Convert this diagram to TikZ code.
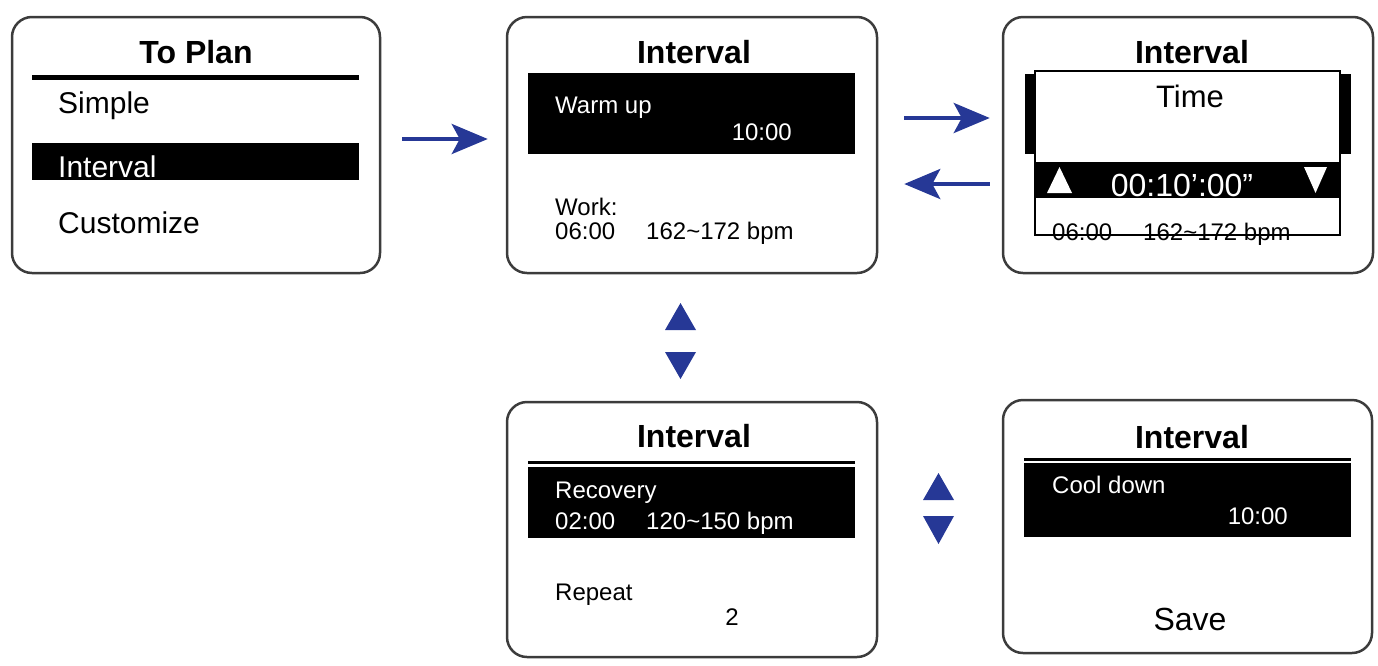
\documentclass[tikz,border=0pt]{standalone}
\usepackage{fontspec}
\setmainfont{Liberation Sans}
\usetikzlibrary{arrows.meta, positioning}
\definecolor{navyarrow}{RGB}{38,56,150}
\definecolor{screenline}{RGB}{60,60,60}
\newcommand{\ttlfont}{\fontsize{32}{36}\selectfont\bfseries}
\newcommand{\itemfont}{\fontsize{30}{34}\selectfont}
\newcommand{\smallfont}{\fontsize{24}{27}\selectfont}
\newcommand{\bigfont}{\fontsize{32}{36}\selectfont}
\newcommand{\gapsp}{\hspace{31pt}}

\begin{document}
\begin{tikzpicture}[x=1pt, y=-1pt,
    screen/.style={draw=screenline, line width=2.5pt, rounded corners=20pt,
      minimum width=368pt, minimum height=256pt, inner sep=0pt},
    ttl/.style={anchor=base, inner sep=0pt, font=\ttlfont},
    itm/.style={anchor=base west, inner sep=0pt, font=\itemfont},
    lbl/.style={anchor=base west, inner sep=0pt, font=\smallfont},
    flow/.style={draw=navyarrow, line width=4pt,
      -{Stealth[length=36pt, width=30pt, inset=8pt]}},
    tri/.style={fill=navyarrow}]
  \useasboundingbox (0,0) rectangle (1378,665);

  % screens
  \node[screen] (plan) at (196,145) {};
  \node[screen, minimum width=370pt] (warm) at (692,145) {};
  \node[screen, minimum width=370pt] (time) at (1188,145) {};
  \node[screen, minimum width=370pt, minimum height=255pt] (recov) at (692,529.5) {};
  \node[screen, minimum width=369pt, minimum height=253pt] (cool) at (1187.5,526.5) {};

  % To Plan
  \node[ttl] (plantitle) at (196,63) {To Plan};
  \draw[line width=5pt] (32,77) -- (359,77);
  \node[itm] (simple) at (58,113) {Simple};
  \fill (32,143) rectangle (359,180);
  \node[itm, text=white] (interval) at (58,177) {Interval};
  \node[itm] (custom) at (58,233) {Customize};

  % Warm up
  \node[ttl] (warmtitle) at (694,63) {Interval};
  \fill (528,73) rectangle (855,154);
  \node[lbl, text=white] (warmlbl) at (555,113) {Warm up};
  \node[lbl, text=white, anchor=base east] (warmval) at (792,140) {10:00};
  \node[lbl] (worklbl) at (555,215) {Work:};
  \node[lbl] (workval) at (555,239) {06:00\gapsp162\textasciitilde172 bpm};

  % Time dialog
  \node[ttl] (timetitle) at (1192,63) {Interval};
  \fill (1025,74) rectangle (1351,154);
  \fill[white] (1035,71) rectangle (1340,235);
  \node[anchor=base, inner sep=0pt, font=\fontsize{31}{34}\selectfont] (timelbl) at (1190,107) {Time};
  \fill (1035,162) rectangle (1340,198);
  \fill[white] (1047,193) -- (1072,193) -- (1059.5,167) -- cycle;
  \fill[white] (1304,167) -- (1327,167) -- (1315.5,193) -- cycle;
  \node[anchor=base, inner sep=0pt, font=\bigfont, text=white] (timeval) at (1182,196) {00:10’:00”};
  \node[lbl] (timework) at (1052,240) {06:00\gapsp162\textasciitilde172 bpm};
  \draw[line width=2pt] (1035,71) rectangle (1340,235);

  % Recovery
  \node[ttl] (recovtitle) at (694,447) {Interval};
  \draw[line width=3pt] (528,462) -- (855,462);
  \fill (528,467) rectangle (855,538);
  \node[lbl, text=white] (recovlbl) at (555,498) {Recovery};
  \node[lbl, text=white] (recovval) at (555,529) {02:00\gapsp120\textasciitilde150 bpm};
  \node[lbl] (replbl) at (555,600) {Repeat};
  \node[lbl, anchor=base] (repval) at (732,625) {2};

  % Cool down
  \node[ttl] (cooltitle) at (1192,448) {Interval};
  \draw[line width=3pt] (1024,459) -- (1351,459);
  \fill (1024,463) rectangle (1351,537);
  \node[lbl, text=white] (coollbl) at (1052,493) {Cool down};
  \node[lbl, text=white, anchor=base east] (coolval) at (1288,524) {10:00};
  \node[anchor=base, inner sep=0pt, font=\bigfont] (save) at (1190,630) {Save};

  % arrows
  \draw[flow, shorten <=21pt, shorten >=18pt] ([yshift=6pt]plan.east) -- ([yshift=6pt]warm.west);
  \draw[flow, shorten <=26pt, shorten >=12pt] ([yshift=27pt]warm.east) -- ([yshift=27pt]time.west);
  \draw[flow, shorten <=12pt, shorten >=26pt] ([yshift=-39pt]time.west) -- ([yshift=-39pt]warm.east);

  % up / down keys
  \fill[tri] (665,330) -- (696,330) -- (680.5,303) -- cycle;
  \fill[tri] (665,352) -- (696,352) -- (680.5,379) -- cycle;
  \fill[tri] (923,500) -- (954,500) -- (938.5,473) -- cycle;
  \fill[tri] (923,516) -- (954,516) -- (938.5,544) -- cycle;
\end{tikzpicture}
\end{document}
